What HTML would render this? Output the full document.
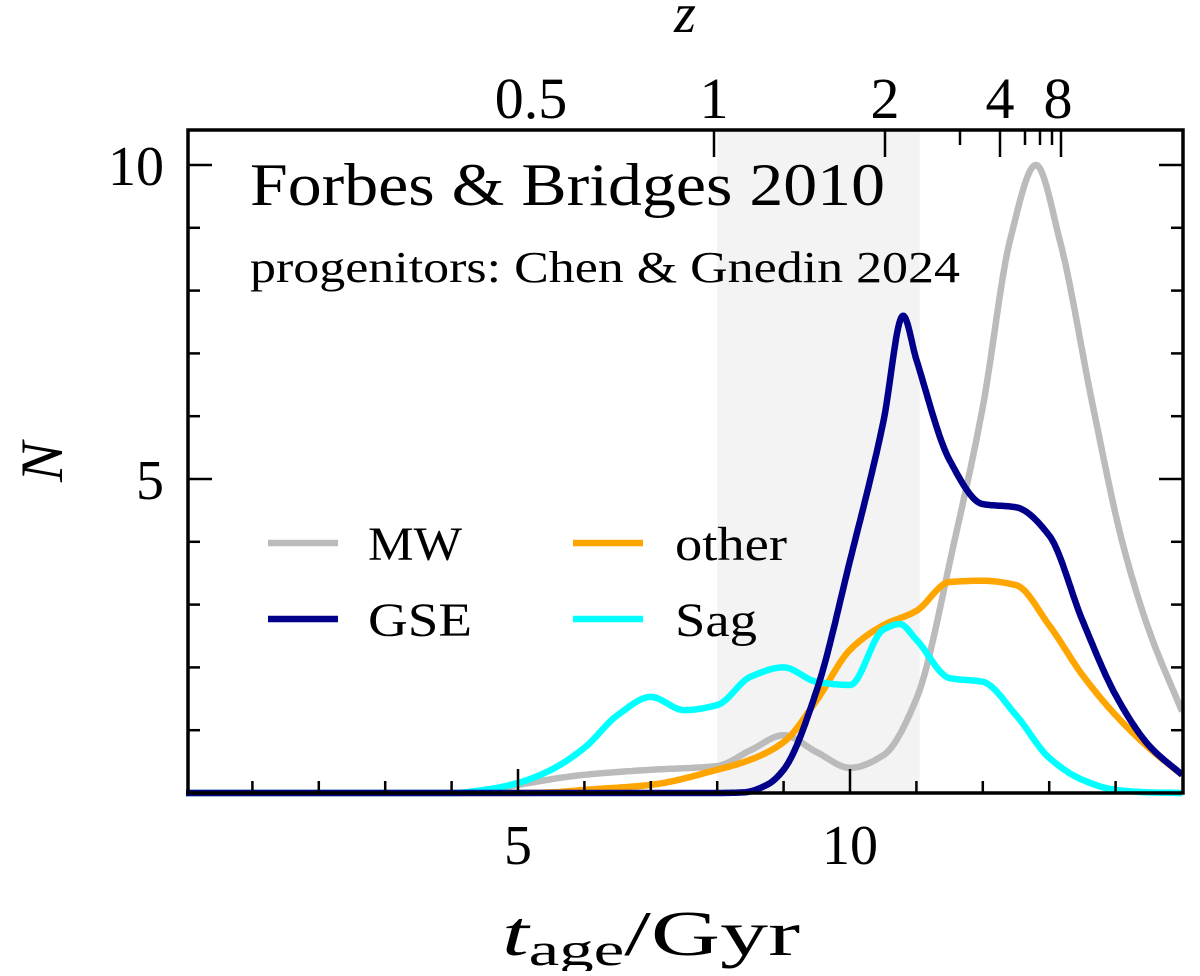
<!DOCTYPE html>
<html><head><meta charset="utf-8"><style>
body{margin:0;background:#fff;width:1200px;height:971px;overflow:hidden}
svg text{font-family:"Liberation Serif",serif;fill:#000}
</style></head><body>
<svg id="chart" width="1200" height="971">
<g id="bg"></g><g id="curves"></g><g id="axes"></g>
</svg>
<script>
const tMW=[0,4,4.5,5,6,7,8,8.5,9,9.5,10,10.5,11,11.57,12,12.41,12.8,13.16,13.66,14.1,14.5,15];
const nMW=[0,0,0.03,0.13,0.29,0.37,0.43,0.68,0.92,0.65,0.4,0.6,1.5,4.0,6.15,8.8,10.0,8.8,6.15,4.0,2.6,1.3];
const tGSE=[0,8,8.4,8.75,9,9.5,10,10.5,10.8,11,11.5,12,12.5,13,13.5,14,14.5,15];
const nGSE=[0,0,0.01,0.13,0.37,1.64,3.7,5.9,7.6,6.9,5.3,4.6,4.55,4.1,2.75,1.56,0.76,0.29];
const tOther=[0,5,5.5,6,7,8,8.5,9,9.5,10,10.5,11,11.5,12,12.5,13,13.5,14,14.5,15];
const nOther=[0,0,0.01,0.05,0.13,0.37,0.53,0.81,1.48,2.28,2.67,2.9,3.36,3.38,3.31,2.67,1.88,1.24,0.72,0.29];
const tSag=[0,4,4.5,5,5.5,6,6.5,7,7.5,8,8.5,9,9.5,10,10.5,10.75,11,11.5,12,12.5,13,13.5,14,14.5,15];
const nSag=[0,0,0.05,0.16,0.37,0.72,1.24,1.53,1.32,1.4,1.85,2.0,1.77,1.72,2.6,2.69,2.44,1.83,1.77,1.24,0.56,0.21,0.05,0.01,0];
const xTicks=[5,10];
const yTicks=[5,10];
const zTicks=[1,2,3,4,5,6,7,8];
const zLabels=["0.5","1","2","4","8"];
const zLabelPos={"0.5":531,"1":714,"2":885,"4":1000,"8":1058};
const zPos={1:714,2:885,3:960,4:1000,5:1025,6:1040,7:1052,8:1061};

const L=188,R=1183,T=130,B=793;
const X=t=>186+66.4*t, Y=n=>793-62.8*n;
const NS="http://www.w3.org/2000/svg";
function mk(tag,attrs,parent){const e=document.createElementNS(NS,tag);for(const k in attrs)e.setAttribute(k,attrs[k]);parent.appendChild(e);return e;}
const bg=document.getElementById('bg'),cv=document.getElementById('curves'),ax=document.getElementById('axes');
const sh=mk('rect',{x:X(8),y:T,width:X(11.05)-X(8),height:B-T,fill:'#f3f3f3'},bg);


function monotone(xs,ys){const n=xs.length,d=[],m=[];
for(let i=0;i<n-1;i++)d.push((ys[i+1]-ys[i])/(xs[i+1]-xs[i]));
m[0]=d[0];m[n-1]=d[n-2];
for(let i=1;i<n-1;i++){if(d[i-1]*d[i]<=0)m[i]=0;else{const w1=2*(xs[i+1]-xs[i])+(xs[i]-xs[i-1]),w2=(xs[i+1]-xs[i])+2*(xs[i]-xs[i-1]);m[i]=(w1+w2)/(w1/d[i-1]+w2/d[i]);}}
let pts=[];
for(let i=0;i<n-1;i++){const h=xs[i+1]-xs[i];for(let k=0;k<20;k++){const s=k/20,h00=2*s*s*s-3*s*s+1,h10=s*s*s-2*s*s+s,h01=-2*s*s*s+3*s*s,h11=s*s*s-s*s;
pts.push([xs[i]+s*h,h00*ys[i]+h10*h*m[i]+h01*ys[i+1]+h11*h*m[i+1]]);}}
pts.push([xs[n-1],ys[n-1]]);
return 'M'+pts.map(p=>X(p[0]).toFixed(1)+','+Y(Math.max(0,p[1])).toFixed(1)).join('L');}
const series=[[tMW,nMW,'#bbbbbb','line-mw'],[tOther,nOther,'#ffa500','line-other'],[tSag,nSag,'#00ffff','line-sag'],[tGSE,nGSE,'#00008b','line-gse']];
for(const [t,n,c,name] of series){const e=mk('path',{d:monotone(t,n),fill:'none',stroke:c,'stroke-width':6.5,'stroke-linejoin':'round'},cv);

}
mk('rect',{x:L,y:T,width:R-L,height:B-T,fill:'none',stroke:'#000','stroke-width':3.5},ax);
for(let t=1;t<15;t++){const maj=xTicks.includes(t);const l=maj?24:12;
mk('line',{x1:X(t),x2:X(t),y1:B,y2:B-l,stroke:'#000','stroke-width':2.5},ax);}
for(const t of xTicks){const e=mk('text',{x:X(t),y:864,'font-size':56,'text-anchor':'middle'},ax);e.textContent=t;

}
for(let n=1;n<=10;n++){const maj=yTicks.includes(n);const l=maj?24:12;
mk('line',{x1:L,x2:L+l,y1:Y(n),y2:Y(n),stroke:'#000','stroke-width':2.5},ax);
mk('line',{x1:R,x2:R-l,y1:Y(n),y2:Y(n),stroke:'#000','stroke-width':2.5},ax);}
for(const n of yTicks){const e=mk('text',{x:164,y:Y(n)+20,'font-size':56,'text-anchor':'end'},ax);e.textContent=n;

}
for(const z of zTicks){const maj=[1,2,4,8].includes(z);const l=maj?27:15;
mk('line',{x1:zPos[z],x2:zPos[z],y1:T,y2:T+l,stroke:'#000','stroke-width':2.5},ax);}
for(const s of zLabels){const e=mk('text',{x:zLabelPos[s],y:118,'font-size':58,'text-anchor':'middle'},ax);e.textContent=s;

}
</script>
<svg width="1200" height="971" style="position:absolute;left:0;top:0">
<text x="685" y="32" font-size="56" font-style="italic" text-anchor="middle">z</text>
<text x="502" y="955" font-size="64" textLength="298" lengthAdjust="spacingAndGlyphs"><tspan font-style="italic">t</tspan><tspan font-size="46" dy="10">age</tspan><tspan dy="-10">/Gyr</tspan></text>
<text x="62" y="462" font-size="60" font-style="italic" text-anchor="middle" transform="rotate(-90 62 462)">N</text>
<text x="250" y="205" font-size="60" textLength="635" lengthAdjust="spacingAndGlyphs">Forbes &amp; Bridges 2010</text>
<text x="250" y="282" font-size="44" textLength="710" lengthAdjust="spacingAndGlyphs">progenitors: Chen &amp; Gnedin 2024</text>
<g>
<line x1="268" x2="338" y1="543" y2="543" stroke="#bbbbbb" stroke-width="6.5"/><text x="368" y="560" font-size="48" textLength="94" lengthAdjust="spacingAndGlyphs">MW</text>
<line x1="268" x2="338" y1="619" y2="619" stroke="#00008b" stroke-width="6.5"/><text x="368" y="636" font-size="48" textLength="104" lengthAdjust="spacingAndGlyphs">GSE</text>
<line x1="573" x2="643" y1="543" y2="543" stroke="#ffa500" stroke-width="6.5"/><text x="675" y="560" font-size="48" textLength="112" lengthAdjust="spacingAndGlyphs">other</text>
<line x1="573" x2="643" y1="619" y2="619" stroke="#00ffff" stroke-width="6.5"/><text x="675" y="636" font-size="48" textLength="82" lengthAdjust="spacingAndGlyphs">Sag</text>
</g>
</svg>
</body></html>
